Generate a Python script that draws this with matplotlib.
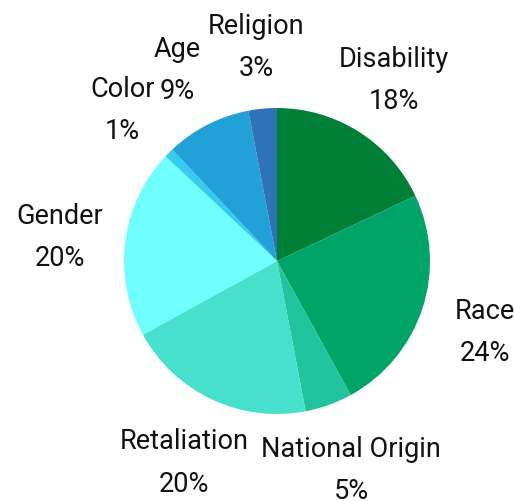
import matplotlib
matplotlib.use("Agg")
import matplotlib.pyplot as plt

# categorias e percentuais
categorias = ["Disability", "Race", "National Origin", "Retaliation",
              "Gender", "Color", "Age", "Religion"]
percentuais = [18, 24, 5, 20, 20, 1, 9, 3]
cores = ["#008037", "#00A368", "#1FC49C", "#46E0CD",
         "#6FFFFF", "#33CCEE", "#22A0D8", "#2E72B8"]

plt.rcParams["font.family"] = ["Roboto", "DejaVu Sans"]

W, H = 514, 502
fig = plt.figure(figsize=(W / 100, H / 100), dpi=100)
cx, cy, r = 277, 262, 153
ax = fig.add_axes([(cx - r) / W, (H - cy - r) / H, 2 * r / W, 2 * r / H])

rotulos = [f"{c}\n{p}%" for c, p in zip(categorias, percentuais)]
wedges, textos = ax.pie(percentuais, labels=rotulos, colors=cores,
                        startangle=90, counterclock=False,
                        labeldistance=1.43,
                        wedgeprops={"linewidth": 0})
for t in textos:
    x, y = t.get_position()
    t.set_position((x, y - 0.02))  # pequeno ajuste para baixo
    t.set_ha("center")
    t.set_va("center")
    t.set_fontsize(19.5)
    t.set_linespacing(1.72)
    t.set_color("#111111")

ax.set_xlim(-1, 1)
ax.set_ylim(-1, 1)
ax.set_aspect("equal")
ax.axis("off")

fig.savefig("out.png", dpi=100)
